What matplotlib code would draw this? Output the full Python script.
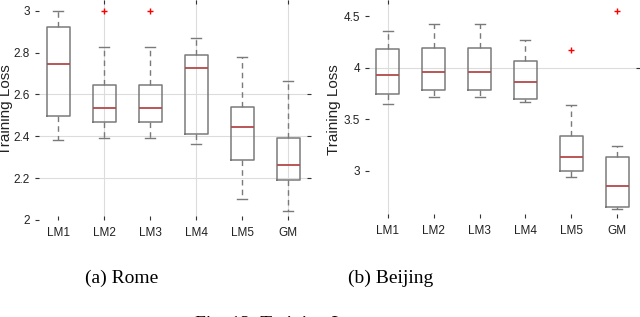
import matplotlib.pyplot as plt

W, H = 640, 317

labels = ["LM1", "LM2", "LM3", "LM4", "LM5", "GM"]

# Rome: lower whisker, q1, median, q3, upper whisker, outliers
rome_whislo = [2.38, 2.392, 2.392, 2.365, 2.100, 2.045]
rome_q1 = [2.498, 2.467, 2.467, 2.409, 2.287, 2.191]
rome_med = [2.745, 2.537, 2.537, 2.725, 2.444, 2.264]
rome_q3 = [2.92, 2.646, 2.646, 2.787, 2.540, 2.392]
rome_whishi = [3.0, 2.828, 2.828, 2.871, 2.779, 2.666]
rome_fliers = [[], [3.0], [3.0], [], [], []]

# Beijing
bj_whislo = [3.651, 3.712, 3.712, 3.667, 2.942, 2.635]
bj_q1 = [3.747, 3.782, 3.782, 3.692, 3.0, 2.654]
bj_med = [3.926, 3.958, 3.958, 3.862, 3.138, 2.853]
bj_q3 = [4.179, 4.186, 4.186, 4.064, 3.343, 3.135]
bj_whishi = [4.353, 4.426, 4.426, 4.263, 3.635, 3.244]
bj_fliers = [[], [], [], [], [4.167], [4.545]]


def make_stats(lo, q1, med, q3, hi, fl):
    out = []
    for i in range(len(labels)):
        out.append(dict(label=labels[i], whislo=lo[i], q1=q1[i], med=med[i],
                        q3=q3[i], whishi=hi[i], fliers=fl[i]))
    return out


def draw_panel(ax, stats, ylim, yticks, ytl, grid_y, grid_x):
    ax.bxp(stats, widths=0.5, capwidths=0.22, showfliers=True,
           boxprops=dict(color="#7a7a7a", linewidth=1.1),
           whiskerprops=dict(color="#7a7a7a", linewidth=1.0, linestyle=(0, (4, 3))),
           capprops=dict(color="#7a7a7a", linewidth=1.0),
           medianprops=dict(color="#b24a4a", linewidth=1.3),
           flierprops=dict(marker="+", markeredgecolor="red", markersize=5, markeredgewidth=1.0))
    # only some grid lines show up in the original figure
    for g in grid_y:
        ax.axhline(g, color="#dcdcdc", linewidth=0.8, zorder=0)
    for g in grid_x:
        ax.axvline(g, color="#dcdcdc", linewidth=0.8, zorder=0)
    ax.set_xlim(0.5, 6.5)
    ax.set_ylim(*ylim)
    ax.set_yticks(yticks)
    ax.set_yticklabels(ytl)
    for s in ax.spines.values():
        s.set_visible(False)
    ax.tick_params(direction="in", length=3, width=0.8, color="#333333",
                   labelsize=8.5, labelcolor="#222222", pad=3.5)
    top = ax.secondary_xaxis("top")
    top.set_xticks(grid_x)
    top.set_xticklabels([])
    top.tick_params(direction="in", length=3, width=0.8, color="#333333")
    top.spines["top"].set_visible(False)
    right = ax.secondary_yaxis("right")
    right.set_yticks(grid_y)
    right.set_yticklabels([])
    right.tick_params(direction="in", length=3, width=0.8, color="#333333")
    right.spines["right"].set_visible(False)


plt.rcParams["font.family"] = ["Liberation Sans", "DejaVu Sans"]
fig = plt.figure(figsize=(W / 100, H / 100), dpi=100)

ax1 = fig.add_axes([35 / W, 1 - 220 / H, 276 / W, 220 / H])
draw_panel(ax1, make_stats(rome_whislo, rome_q1, rome_med, rome_q3, rome_whishi, rome_fliers),
           (2.0, 3.051), [2, 2.2, 2.4, 2.6, 2.8, 3], ["2", "2.2", "2.4", "2.6", "2.8", "3"],
           [2.2, 2.4, 2.6], [2, 4, 6])
ax1.tick_params(axis="x", pad=5)

ax2 = fig.add_axes([365 / W, 1 - 218.3 / H, 275 / W, 218.3 / H])
draw_panel(ax2, make_stats(bj_whislo, bj_q1, bj_med, bj_q3, bj_whishi, bj_fliers),
           (2.542, 4.655), [3, 3.5, 4, 4.5], ["3", "3.5", "4", "4.5"],
           [4], [1])
ax2.tick_params(axis="x", pad=5)

fig.text(6 / W, 1 - 110 / H, "Training Loss", rotation=90, fontsize=11,
         ha="center", va="center", color="#222222")
fig.text(334 / W, 1 - 110 / H, "Training Loss", rotation=90, fontsize=11,
         ha="center", va="center", color="#222222")

fig.text(122 / W, 1 - 278 / H, "(a) Rome", fontsize=14, family="Liberation Serif",
         ha="center", va="center")
fig.text(391 / W, 1 - 278 / H, "(b) Beijing", fontsize=14, family="Liberation Serif",
         ha="center", va="center")
# caption is cut by the bottom edge in the original
fig.text(195 / W, 1 - 329 / H, "Fig. 12: Training Loss", fontsize=14,
         family="Liberation Serif", ha="left", va="baseline")

fig.savefig("out.png", dpi=100)
